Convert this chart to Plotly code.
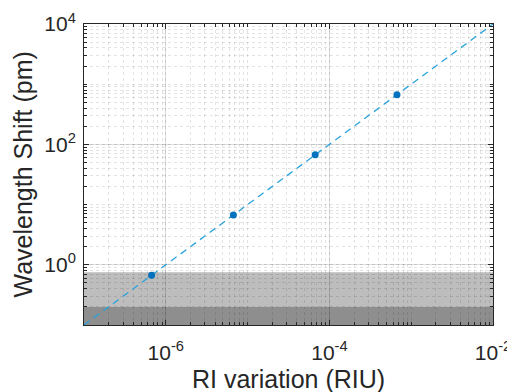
import numpy as np
import plotly.graph_objects as go

# Data
ri_variation = [6.7e-7, 6.7e-6, 6.7e-5, 6.7e-4]
wavelength_shift = [0.67, 6.7, 67, 670]
fit_x = [1e-7, 1e-2]
fit_y = [0.1, 1e4]
band_dark = [0.1, 0.2]
band_light = [0.2, 0.75]
x_tickvals = [1e-6, 1e-4, 1e-2]
x_ticktext = ["10<sup>-6</sup>", "10<sup>-4</sup>", "10<sup>-2</sup>"]
y_tickvals = [1, 1e2, 1e4]
y_ticktext = ["10<sup>0</sup>", "10<sup>2</sup>", "10<sup>4</sup>"]
x_title = "RI variation (RIU)"
y_title = "Wavelength Shift (pm)"

fig = go.Figure()

fig.add_trace(go.Scatter(x=fit_x, y=fit_y, mode="lines",
                         line=dict(color="#2aa3dc", width=1.3, dash="7px,5px"),
                         showlegend=False))
fig.add_trace(go.Scatter(x=ri_variation, y=wavelength_shift, mode="markers",
                         marker=dict(color="#0072BD", size=7),
                         showlegend=False))

fig.add_shape(type="rect", xref="paper", x0=0, x1=1, yref="y",
              y0=band_dark[0], y1=band_dark[1], fillcolor="#8e8e8e",
              line=dict(width=0), layer="below")
fig.add_shape(type="rect", xref="paper", x0=0, x1=1, yref="y",
              y0=band_light[0], y1=band_light[1], fillcolor="#bdbdbd",
              line=dict(width=0), layer="below")

font = dict(family="Liberation Sans, Arial, sans-serif", color="#262626")

axis_common = dict(
    type="log", tickmode="array", automargin=False,
    showline=True, linecolor="#262626", linewidth=1, mirror="allticks",
    ticks="inside", ticklen=5, tickcolor="#262626",
    showgrid=True, gridcolor="rgba(0,0,0,0.13)", gridwidth=1,
    zeroline=False,
    tickfont=dict(size=21, **font),
    minor=dict(tickmode="linear", dtick="D1", ticks="inside", ticklen=3,
               tickcolor="#262626", showgrid=True,
               gridcolor="rgba(0,0,0,0.11)", griddash="dot", gridwidth=1),
)

fig.update_xaxes(range=[-7, -2], tickvals=x_tickvals, ticktext=x_ticktext,
                 ticklabelstandoff=9, **axis_common)
fig.update_yaxes(range=[-1, 4], tickvals=y_tickvals, ticktext=y_ticktext,
                 ticklabelstandoff=3, **axis_common)

W, H = 507, 384
ml, mr, mt, mb = 76, 22, 16, 67
pw, ph = W - ml - mr, H - mt - mb

fig.add_annotation(text=x_title, xref="paper", yref="paper", x=0.5,
                   y=-54 / ph, xanchor="center", yanchor="middle",
                   showarrow=False, font=dict(size=25, **font))
fig.add_annotation(text=y_title, xref="paper", yref="paper", x=-62 / pw,
                   y=0.5, xanchor="center", yanchor="middle", textangle=-90,
                   showarrow=False, font=dict(size=25, **font))

fig.update_layout(
    width=W, height=H,
    margin=dict(l=ml, r=mr, t=mt, b=mb),
    paper_bgcolor="white", plot_bgcolor="white",
    font=font,
)

fig.write_html("out.html")
